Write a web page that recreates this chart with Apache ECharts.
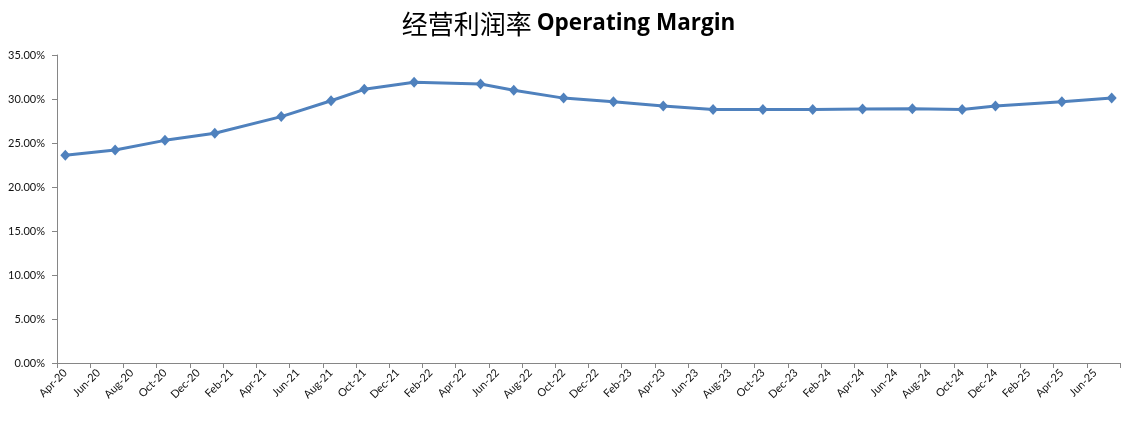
<!DOCTYPE html>
<html>
<head>
<meta charset="utf-8">
<script src="https://cdn.jsdelivr.net/npm/echarts@6/dist/echarts.min.js"></script>
<style>
html,body{margin:0;padding:0;background:#fff;}
#chart{width:1137px;height:421px;}
</style>
</head>
<body>
<div id="chart"></div>
<script>
// Month slots of the date axis (Apr-20 .. Jul-25)
const months = [
  'Apr-20','May-20','Jun-20','Jul-20','Aug-20','Sep-20','Oct-20','Nov-20','Dec-20',
  'Jan-21','Feb-21','Mar-21','Apr-21','May-21','Jun-21','Jul-21','Aug-21','Sep-21','Oct-21','Nov-21','Dec-21',
  'Jan-22','Feb-22','Mar-22','Apr-22','May-22','Jun-22','Jul-22','Aug-22','Sep-22','Oct-22','Nov-22','Dec-22',
  'Jan-23','Feb-23','Mar-23','Apr-23','May-23','Jun-23','Jul-23','Aug-23','Sep-23','Oct-23','Nov-23','Dec-23',
  'Jan-24','Feb-24','Mar-24','Apr-24','May-24','Jun-24','Jul-24','Aug-24','Sep-24','Oct-24','Nov-24','Dec-24',
  'Jan-25','Feb-25','Mar-25','Apr-25','May-25','Jun-25','Jul-25'
];
// Observation dates and operating margin (%)
const dates = [
  'Apr-20','Jul-20','Oct-20','Jan-21','May-21','Aug-21','Oct-21','Jan-22','May-22','Jul-22','Oct-22',
  'Jan-23','Apr-23','Jul-23','Oct-23','Jan-24','Apr-24','Jul-24','Oct-24','Dec-24','Apr-25','Jul-25'
];
const margin = [
  23.6, 24.2, 25.3, 26.1, 28.0, 29.8, 31.1, 31.9, 31.7, 31.0, 30.1,
  29.7, 29.2, 28.8, 28.8, 28.8, 28.85, 28.9, 28.8, 29.2, 29.7, 30.1
];
const yTicks = [0, 5, 10, 15, 20, 25, 30, 35];

const chart = echarts.init(document.getElementById('chart'), null, {renderer: 'canvas'});
chart.setOption({
  animation: false,
  backgroundColor: '#ffffff',
  title: {
    text: '{cn|经营利润率} {en|Operating Margin}',
    left: 'center',
    top: 6,
    textStyle: {
      rich: {
        cn: {fontFamily: 'Noto Sans CJK SC', fontSize: 26, color: '#000', fontWeight: 'normal'},
        en: {fontFamily: 'Open Sans', fontSize: 22.5, color: '#000', fontWeight: 'bold'}
      }
    }
  },
  grid: {left: 57, right: 17, top: 55, bottom: 58, containLabel: false},
  xAxis: {
    type: 'category',
    data: months,
    boundaryGap: true,
    axisLine: {lineStyle: {color: '#868686', width: 1}},
    axisTick: {show: true, interval: 1, length: 5, lineStyle: {color: '#868686'}},
    axisLabel: {
      interval: 1, rotate: 45, margin: 8,
      fontFamily: 'Lato', fontSize: 11, color: '#111'
    },
    splitLine: {show: false}
  },
  yAxis: {
    type: 'value',
    min: yTicks[0], max: yTicks[yTicks.length - 1], interval: 5,
    axisLine: {show: true, lineStyle: {color: '#868686', width: 1}},
    axisTick: {show: true, length: 5, lineStyle: {color: '#868686'}},
    axisLabel: {
      margin: 12, fontFamily: 'Lato', fontSize: 11, color: '#111',
      formatter: v => v.toFixed(2) + '%'
    },
    splitLine: {show: false}
  },
  series: [{
    type: 'line',
    data: dates.map((d, i) => [d, margin[i]]),
    symbol: 'diamond',
    symbolSize: [10, 11],
    itemStyle: {color: '#4F81BD'},
    lineStyle: {color: '#4F81BD', width: 3},
    smooth: false
  }]
});
</script>
</body>
</html>
